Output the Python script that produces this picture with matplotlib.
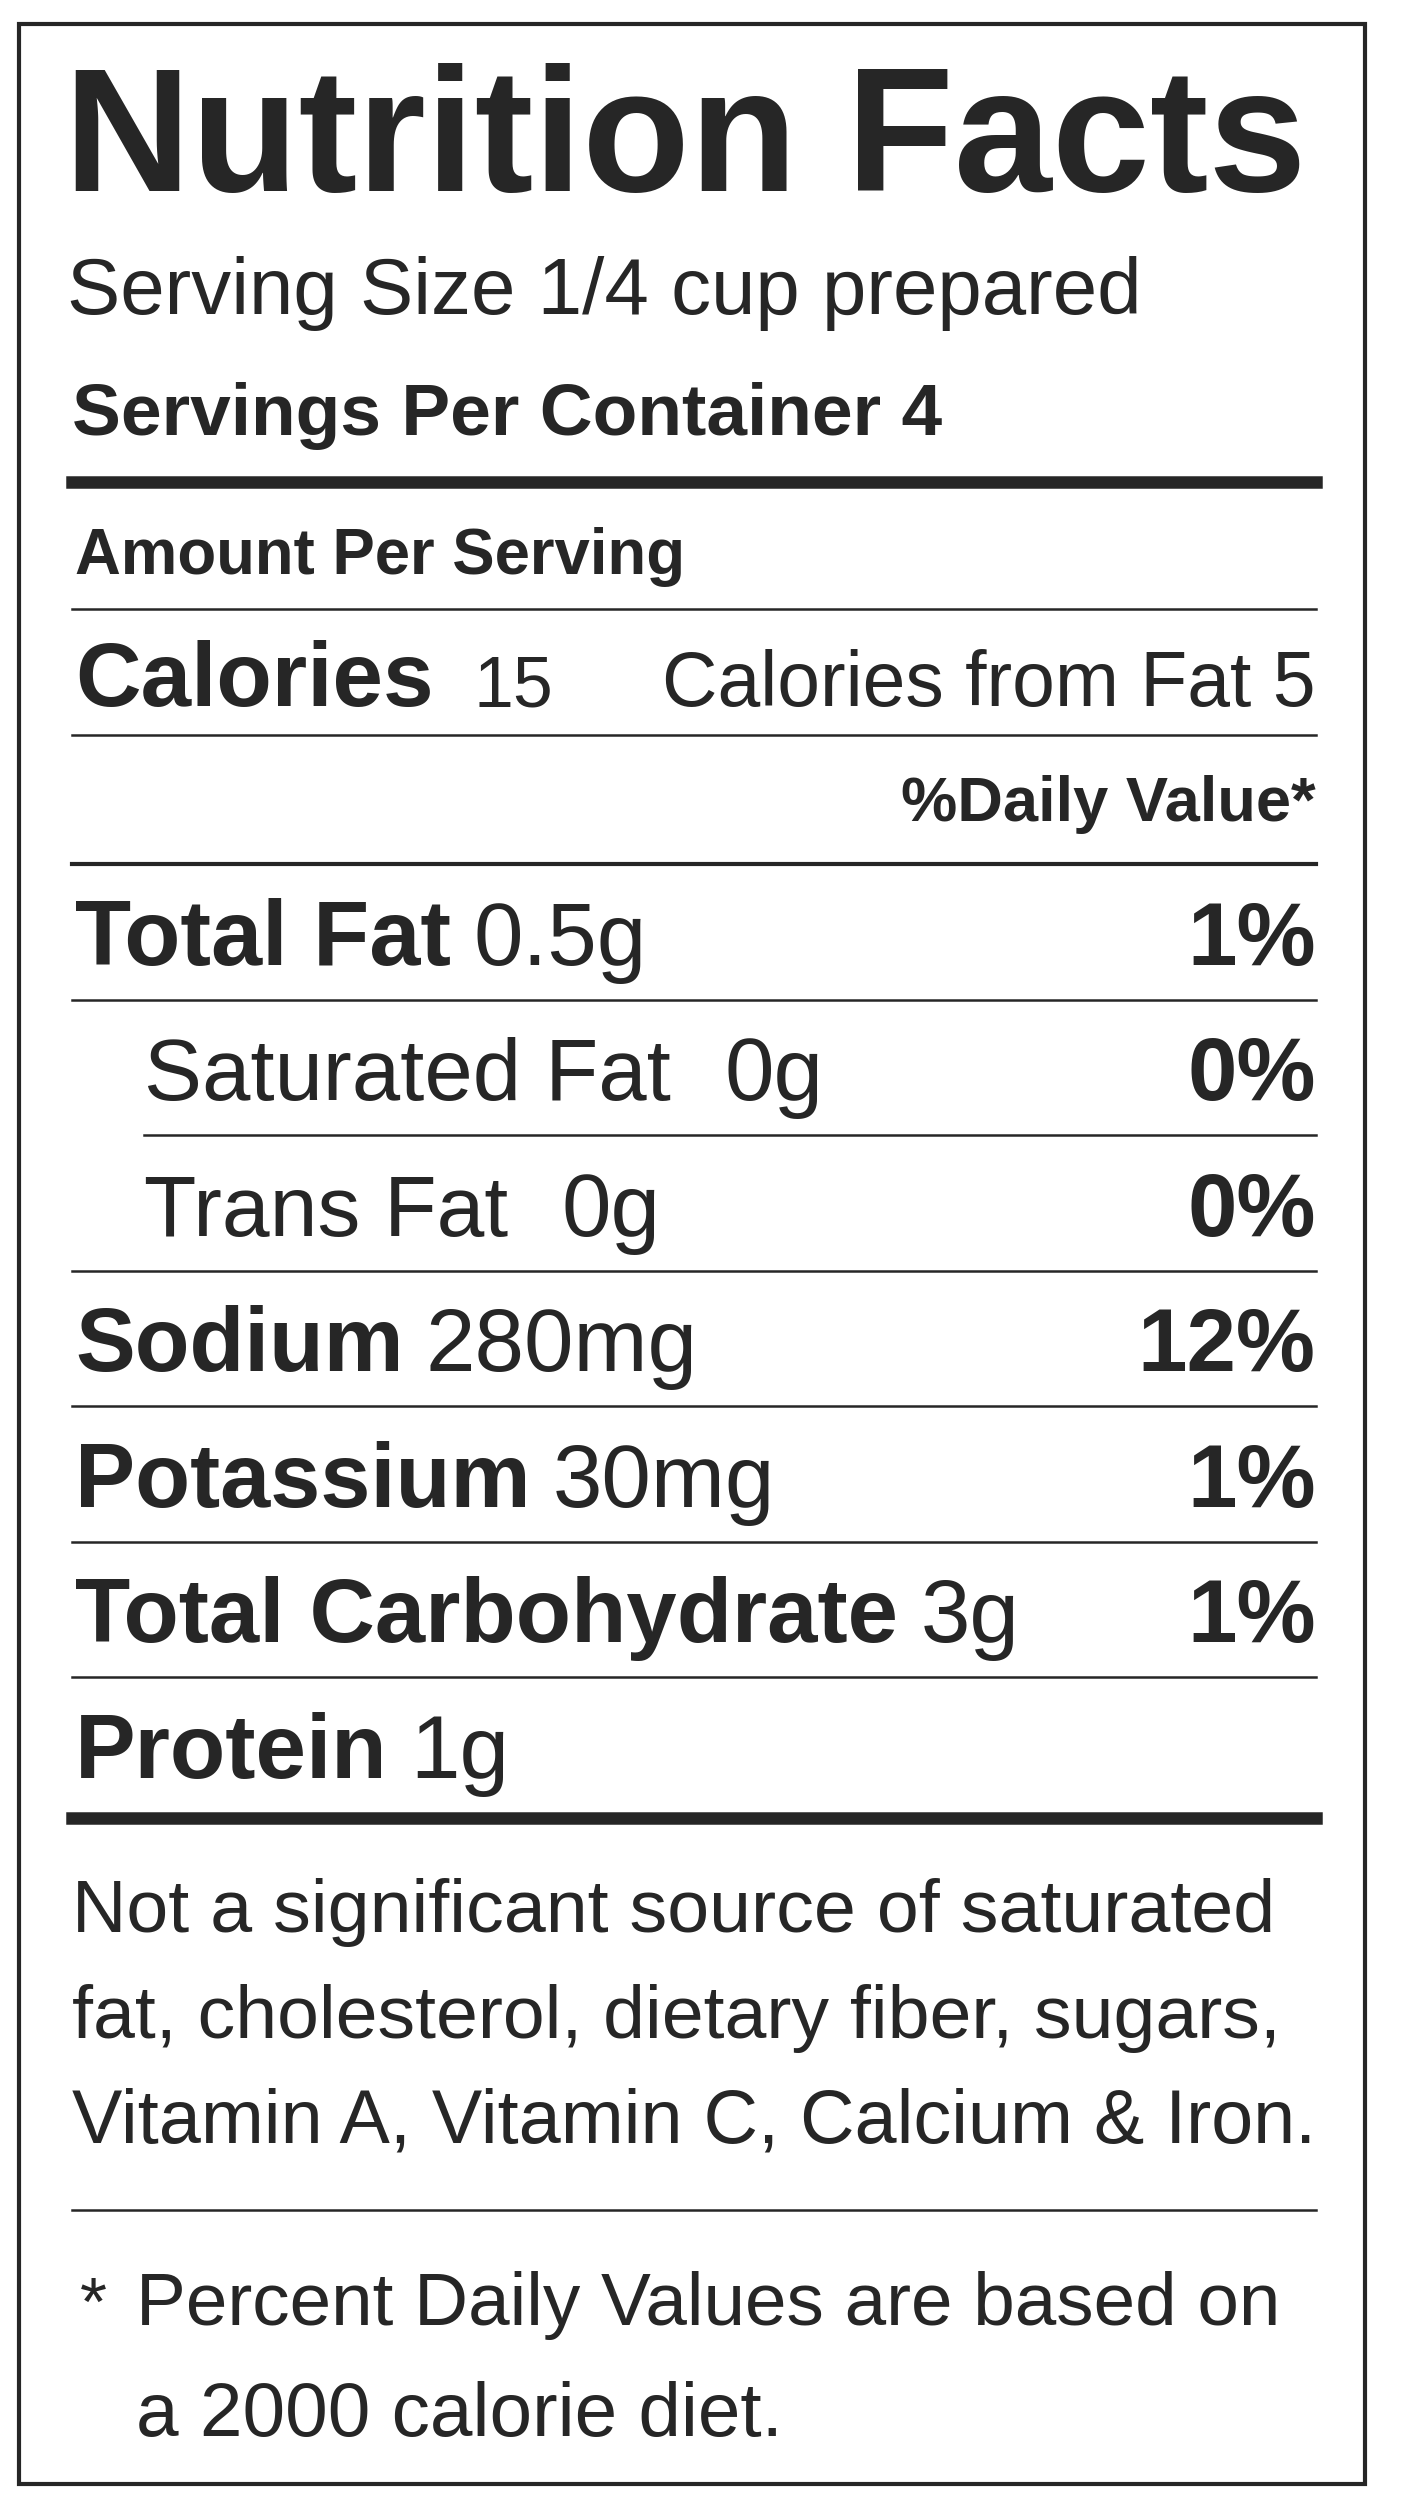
import matplotlib
matplotlib.use("Agg")
import matplotlib.pyplot as plt
from matplotlib.patches import Rectangle

# label data
title = "Nutrition Facts"
serving_size = "Serving Size 1/4 cup prepared"
servings = "Servings Per Container 4"
calories = "15"
calories_fat = "Calories from Fat 5"

nutrients = ["Total Fat", "Saturated Fat", "Trans Fat", "Sodium", "Potassium",
             "Total Carbohydrate", "Protein"]
amounts = ["0.5g", "0g", "0g", "280mg", "30mg", "3g", "1g"]
daily_pct = ["1%", "0%", "0%", "12%", "1%", "1%", ""]
is_sub = [False, True, True, False, False, False, False]
# widths of the labels (reference px)
label_w = [236, 330, 228, 206, 286, 516, 196]

note_lines = ["Not a significant source of saturated",
              "fat, cholesterol, dietary fiber, sugars,",
              "Vitamin A, Vitamin C, Calcium & Iron."]
note_w = [755, 758, 780]
foot_lines = ["* Percent Daily Values are based on", "a 2000 calorie diet."]
foot_w = [753, 405]

W, H = 886.0, 1568.0
INK = "#262626"
plt.rcParams['font.family'] = ['Liberation Sans', 'DejaVu Sans']

fig = plt.figure(figsize=(14.13, 25), dpi=100)
fig.patch.set_facecolor("white")
renderer = fig.canvas.get_renderer()


def X(x):
    return x / W


def Y(y):
    return 1 - y / H


def width_of(t):
    bb = t.get_window_extent(renderer=renderer)
    return bb.width / fig.bbox.width * W


def txt(x, y, s, size, bold=False, ha="left", fit=None):
    t = fig.text(X(x), Y(y), s, fontsize=size, fontweight="bold" if bold else "normal",
                 ha=ha, va="baseline", color=INK)
    if fit is not None:
        t.set_fontsize(size * fit / width_of(t))
    return t


def right_edge(t):
    bb = t.get_window_extent(renderer=renderer)
    return bb.x1 / fig.bbox.width * W


def hline(y, lw, x0=45, x1=825):
    fig.add_artist(plt.Line2D([X(x0), X(x1)], [Y(y), Y(y)], color=INK, lw=lw,
                              transform=fig.transFigure))


fig.add_artist(Rectangle((X(12), Y(1558)), X(856) - X(12), Y(15) - Y(1558),
                         fill=False, ec=INK, lw=3, transform=fig.transFigure))

txt(40, 120, title, 122, bold=True, fit=780)
txt(42, 197, serving_size, 66, fit=673)
txt(45, 273, servings, 58, bold=True, fit=545)
hline(302, 9)
txt(47, 360, "Amount Per Serving", 54, bold=True, fit=383)
hline(382, 1.8)
txt(47, 443, "Calories", 72, bold=True, fit=225)
txt(297, 443, calories, 64, fit=50)
txt(825, 443, calories_fat, 64, ha="right", fit=410)
hline(461, 1.8)
txt(825, 515, "%Daily Value*", 54, bold=True, ha="right", fit=260)
hline(542, 3)

base = 605
for i, (name, amt, pct, sub, lw_) in enumerate(zip(nutrients, amounts, daily_pct, is_sub, label_w)):
    y = base + 85 * i
    x0 = 90 if sub else 47
    t = txt(x0, y, name, 72, bold=not sub, fit=lw_)
    txt(right_edge(t) + (34 if sub else 14), y, amt, 64)
    if pct:
        txt(825, y, pct, 64, bold=True, ha="right")
    if i < len(nutrients) - 1:
        hline(y + 22, 1.8, x0=90 if (sub and is_sub[i + 1]) else 45)
    else:
        hline(y + 25, 9)

for j, (line, w) in enumerate(zip(note_lines, note_w)):
    txt(45, 1212 + 66 * j, line, 70, fit=w)
hline(1386, 1.8)
txt(50, 1458, "*", 50)
txt(85, 1458, foot_lines[0][2:], 70, fit=foot_w[0] - 35)
txt(85, 1528, foot_lines[1], 70, fit=foot_w[1])

fig.savefig("out.png", dpi=100, facecolor="white")
